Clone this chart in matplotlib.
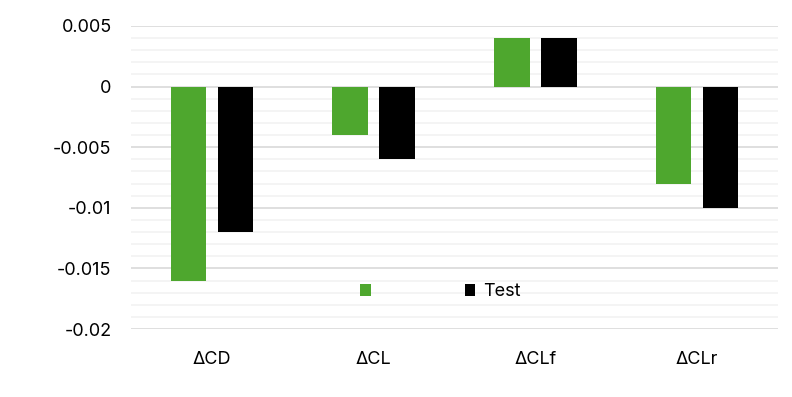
import matplotlib
matplotlib.use("Agg")
import matplotlib.pyplot as plt
import numpy as np
from matplotlib.ticker import MultipleLocator, FuncFormatter

categories = ["ΔCD", "ΔCL", "ΔCLf", "ΔCLr"]
series_green = [-0.016, -0.004, 0.004, -0.008]
series_test = [-0.012, -0.006, 0.004, -0.010]
labels = ["", "Test"]
colors = ["#4ea72e", "#000000"]

plt.rcParams['font.family'] = ['Inter', 'DejaVu Sans']

fig = plt.figure(figsize=(7.92, 3.97), dpi=100)
ax = fig.add_axes([131/792, 1-329/397, (778-131)/792, (329-26)/397])

x = np.arange(len(categories))
w = 0.22
off = 0.145
b1 = ax.bar(x - off, series_green, width=w, color=colors[0], zorder=3)
b2 = ax.bar(x + off, series_test, width=w, color=colors[1], zorder=3)

ax.set_xlim(-0.5, len(categories) - 0.5)
ax.set_ylim(-0.02, 0.005)
ax.yaxis.set_major_locator(MultipleLocator(0.005))
ax.yaxis.set_minor_locator(MultipleLocator(0.001))

def fmt(v, pos):
    if abs(v) < 1e-12:
        return "0"
    return f"{v:.3f}".rstrip("0").rstrip(".")
ax.yaxis.set_major_formatter(FuncFormatter(fmt))

ax.grid(which='major', axis='y', color='#d9d9d9', linewidth=1.2, zorder=0)
ax.grid(which='minor', axis='y', color='#f2f2f2', linewidth=1.2, zorder=0)
ax.set_axisbelow(True)
for s in ax.spines.values():
    s.set_visible(False)
ax.tick_params(axis='both', which='both', length=0, labelsize=13, colors='#000000')
ax.tick_params(axis='y', pad=14)
ax.tick_params(axis='x', pad=16)
ax.set_xticks(x)
ax.set_xticklabels(categories)

leg = ax.legend([b1, b2], labels, loc='center',
                bbox_to_anchor=((440-131)/647, (329-292)/303), ncol=2,
                frameon=False, fontsize=13, handlelength=0.6, handleheight=0.6,
                handletextpad=0.4, columnspacing=4.8)

fig.savefig("out.png", dpi=100, facecolor='white')
